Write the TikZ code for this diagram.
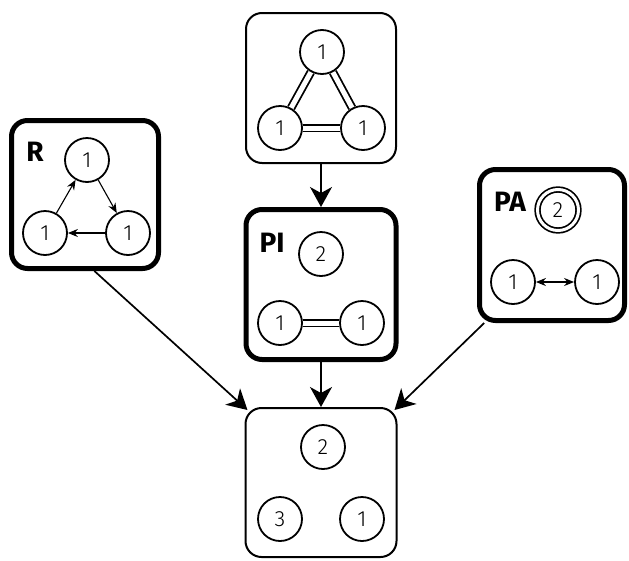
\documentclass[tikz,border=0pt]{standalone}
\usepackage{fontspec}
\setmainfont{Fira Sans Light}[BoldFont=Fira Sans Bold]
\usetikzlibrary{arrows.meta,calc,backgrounds}

\begin{document}
\begin{tikzpicture}[x=1pt,y=-1pt,
    box/.style={draw,line width=2pt,rounded corners=16pt,minimum width=150pt,minimum height=150pt,inner sep=0pt},
    heavy/.style={box,line width=5pt},
    st/.style={circle,draw,line width=1.8pt,minimum size=44pt,inner sep=0pt,font=\fontsize{22}{22}\selectfont},
    tag/.style={font=\fontsize{28}{28}\selectfont\bfseries,inner sep=0pt},
    link/.style={double,double distance=5pt,line width=1.8pt},
    flow/.style={-{Stealth[length=20pt,width=22pt,inset=6pt]},line width=1.7pt},
    tr/.style={-{Stealth[length=10pt,width=8pt]},line width=1.1pt},
    trr/.style={{Stealth[length=10pt,width=8pt]}-{Stealth[length=10pt,width=8pt]},line width=1.3pt}]
    \useasboundingbox (0,0) rectangle (629,560);
    % frames
    \node[box] (top) at (321,88) {};
    \node[heavy] (pi) at (321,284.5) {};
    \node[heavy,minimum width=147pt,minimum height=148pt] (r) at (85,194.5) {};
    \node[heavy,minimum width=145pt,minimum height=151pt] (pa) at (552,245) {};
    \node[box,minimum width=151pt,minimum height=149pt] (bot) at (321,482.5) {};
    % top frame
    \node[st] (t1) at (322,52) {1};
    \node[st] (t2) at (280,128) {1};
    \node[st] (t3) at (363,128) {1};
    % PI frame
    \node[tag] (pilbl) at (272,243) {PI};
    \node[st] (p2) at (321,254) {2};
    \node[st] (p1a) at (280,323) {1};
    \node[st] (p1b) at (362,323) {1};
    % R frame
    \node[tag] (rlbl) at (35,152) {R};
    \node[st] (ra) at (87,160) {1};
    \node[st] (rb) at (128,233) {1};
    \node[st] (rc) at (45,233) {1};
    % PA frame
    \node[tag] (palbl) at (510,202) {PA};
    \node[st,double,double distance=3pt,line width=1.7pt,minimum size=41pt] (pad) at (558,210) {2};
    \node[st] (paa) at (513,282) {1};
    \node[st] (pab) at (597,282) {1};
    % bottom frame
    \node[st] (b2) at (323,447) {2};
    \node[st] (b3) at (280,519) {3};
    \node[st] (b1) at (362,519) {1};
    \begin{scope}[on background layer]
        \draw[link] (t1) -- (t2);
        \draw[link] (t1) -- (t3);
        \draw[link] (t2) -- (t3);
        \draw[link] (p1a) -- (p1b);
    \end{scope}
    \draw[tr] (ra) -- (rb);
    \draw[tr] (rb) -- (rc);
    \draw[tr] (rc) -- (ra);
    \draw[trr] (paa) -- (pab);
    % between frames
    \draw[flow] (top.south) -- (pi.north);
    \draw[flow] (pi.south) -- (bot.north);
    \draw[flow] (r.-83) -- ($(bot.north west)+(3,3)$);
    \draw[flow] (pa.-131) -- ($(bot.north east)+(-3,3)$);
\end{tikzpicture}
\end{document}
